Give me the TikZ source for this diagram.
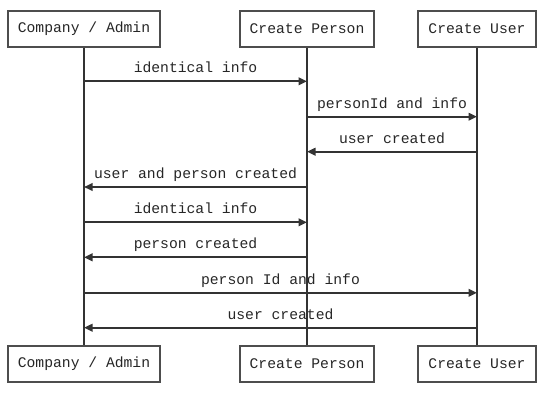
\documentclass[tikz,border=0pt]{standalone}
\usepackage{fontspec}
\setmonofont{Liberation Mono}
\usetikzlibrary{arrows.meta, positioning}
\definecolor{linegray}{HTML}{333333}
\definecolor{boxgray}{HTML}{4D4D4D}
\tikzset{
x=1pt, y=-1pt, % one unit is one pixel, y runs downwards
actor/.style={draw=boxgray, line width=2pt, fill=white, minimum height=36pt, inner xsep=10pt, font=\ttfamily\fontsize{14.7}{17}\selectfont}, % participant boxes
life/.style={draw=linegray, line width=2pt}, % lifelines
msg/.style={draw=linegray, line width=2pt, -{Triangle[length=8.5pt,width=7.5pt]}}, % messages
lbl/.style={anchor=base, yshift=8.5pt, inner sep=0pt, text=black!85, font=\ttfamily\fontsize{14.7}{17}\selectfont}, % message text
}

\begin{document}
\begin{tikzpicture}
\useasboundingbox (0,0) rectangle (547,400);
% participants, top and bottom
\node[actor, text=black!85] (adminT) at (84,29) {Company / Admin};
\node[actor, text=black!85] (personT) at (307,29) {Create Person};
\node[actor, text=black!85] (userT) at (477,29) {Create User};
\node[actor, text=black!85] (adminB) at (84,363.7) {Company / Admin};
\node[actor, text=black!85] (personB) at (307,363.7) {Create Person};
\node[actor, text=black!85] (userB) at (477,363.7) {Create User};
\draw[life] (adminT) -- (adminB);
\draw[life] (personT) -- (personB);
\draw[life] (userT) -- (userB);
% message points on each lifeline
\foreach \y [count=\i] in {81.3,116.7,151.7,187,222.3,257.3,292.8,327.7} {
  \coordinate (a\i) at (84,\y);
  \coordinate (p\i) at (307,\y);
  \coordinate (u\i) at (477,\y);
}
\draw[msg] (a1) -- node[lbl] {identical info} (p1);
\draw[msg] (p2) -- node[lbl] {personId and info} (u2);
\draw[msg] (u3) -- node[lbl] {user created} (p3);
\draw[msg] (p4) -- node[lbl] {user and person created} (a4);
\draw[msg] (a5) -- node[lbl] {identical info} (p5);
\draw[msg] (p6) -- node[lbl] {person created} (a6);
\draw[msg] (a7) -- node[lbl] {person Id and info} (u7);
\draw[msg] (u8) -- node[lbl] {user created} (a8);
\end{tikzpicture}
\end{document}
